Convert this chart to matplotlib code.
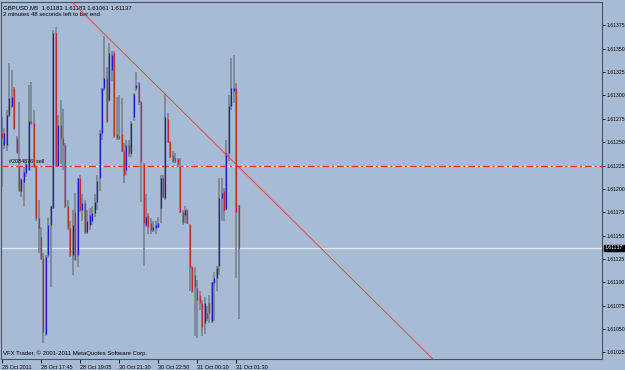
import numpy as np
import matplotlib
matplotlib.use("Agg")
import matplotlib.pyplot as plt
import matplotlib.transforms as mtransforms

# GBPUSD M5, prices in points (1e-5)
opens = [161260, 161247, 161247, 161279, 161289, 161308, 161255, 161225, 161198, 161207,
         161217, 161220, 161273, 161271, 161223, 161169, 161149, 161126, 161045, 161129,
         161161, 161180, 161367, 161225, 161268, 161254, 161247, 161182, 161158, 161129,
         161175, 161129, 161212, 161177, 161185, 161154, 161161, 161166, 161174, 161186,
         161212, 161260, 161308, 161319, 161295, 161327, 161345, 161259, 161257, 161259,
         161241, 161220, 161247, 161238, 161277, 161308, 161313, 161293, 161227, 161161,
         161172, 161163, 161156, 161158, 161159, 161180, 161212, 161190, 161275, 161250,
         161236, 161233, 161232, 161223, 161175, 161172, 161177, 161161, 161116, 161108,
         161094, 161086, 161078, 161056, 161067, 161078, 161059, 161099, 161105, 161118,
         161190, 161198, 161179, 161238, 161289, 161305, 161308, 161183]
highs = [161277, 161265, 161284, 161335, 161327, 161309, 161257, 161293, 161212, 161223,
         161230, 161311, 161314, 161284, 161223, 161188, 161159, 161131, 161129, 161169,
         161182, 161370, 161373, 161279, 161295, 161286, 161249, 161188, 161166, 161177,
         161196, 161212, 161215, 161195, 161188, 161177, 161180, 161182, 161195, 161215,
         161263, 161308, 161364, 161330, 161356, 161348, 161348, 161298, 161300, 161297,
         161249, 161252, 161252, 161273, 161303, 161325, 161314, 161294, 161228, 161195,
         161174, 161169, 161166, 161166, 161170, 161215, 161215, 161302, 161281, 161251,
         161241, 161238, 161233, 161233, 161177, 161182, 161178, 161162, 161117, 161116,
         161102, 161091, 161081, 161084, 161075, 161086, 161100, 161111, 161118, 161212,
         161212, 161201, 161252, 161300, 161340, 161343, 161313, 161183]
lows = [161202, 161243, 161241, 161277, 161287, 161263, 161238, 161198, 161191, 161182,
        161213, 161220, 161268, 161223, 161166, 161131, 161124, 161035, 161043, 161126,
        161095, 161179, 161223, 161223, 161227, 161220, 161180, 161156, 161127, 161108,
        161124, 161116, 161175, 161166, 161152, 161152, 161156, 161161, 161170, 161177,
        161198, 161252, 161305, 161271, 161293, 161316, 161255, 161252, 161252, 161239,
        161206, 161215, 161234, 161234, 161273, 161305, 161290, 161186, 161118, 161159,
        161152, 161152, 161154, 161152, 161158, 161164, 161190, 161188, 161249, 161233,
        161228, 161228, 161223, 161174, 161161, 161164, 161162, 161091, 161089, 161043,
        161041, 161070, 161043, 161045, 161059, 161057, 161057, 161059, 161091, 161108,
        161166, 161166, 161177, 161230, 161284, 161292, 161105, 161061]
closes = [161255, 161260, 161279, 161297, 161298, 161265, 161238, 161198, 161211, 161218,
          161227, 161273, 161271, 161223, 161169, 161158, 161126, 161047, 161127, 161161,
          161182, 161367, 161225, 161268, 161254, 161247, 161182, 161158, 161129, 161161,
          161124, 161212, 161177, 161185, 161154, 161166, 161172, 161174, 161186, 161209,
          161260, 161308, 161319, 161273, 161345, 161343, 161257, 161255, 161255, 161241,
          161215, 161247, 161238, 161271, 161302, 161311, 161293, 161230, 161164, 161170,
          161159, 161156, 161159, 161161, 161164, 161212, 161191, 161277, 161250, 161234,
          161230, 161230, 161227, 161175, 161163, 161177, 161163, 161116, 161091, 161095,
          161081, 161078, 161052, 161078, 161062, 161067, 161100, 161105, 161115, 161190,
          161196, 161177, 161238, 161289, 161308, 161308, 161175, 161137]

time_ticks = [0, 16, 32, 48, 64, 80, 96]
time_labels = ["28 Oct 2011", "28 Oct 17:45", "28 Oct 19:05", "30 Oct 21:30",
               "30 Oct 22:50", "31 Oct 00:10", "31 Oct 01:30"]
price_ticks = [1.61025, 1.61050, 1.61075, 1.61100, 1.61125, 1.61150, 1.61175,
               1.61200, 1.61225, 1.61250, 1.61275, 1.61300, 1.61325, 1.61350, 1.61375]
bid = 1.61137
order_price = 1.61225
order_label = "#2084876  sell"
trend_x = [28.7, 176.6]
trend_y = [1.61400, 1.61018]

o = np.array(opens) / 1e5
h = np.array(highs) / 1e5
l = np.array(lows) / 1e5
c = np.array(closes) / 1e5
idx = np.arange(len(o))

bg = "#a7bbd5"
plt.rcParams["font.family"] = ["Liberation Sans", "DejaVu Sans"]
fig = plt.figure(figsize=(6.25, 3.7), dpi=100, facecolor=bg)
ax = fig.add_axes([1 / 625, 11 / 370, 601 / 625, 357 / 370], facecolor=bg)
ax.set_xlim(-0.4, 245.9)
ax.set_ylim(1.61018, 1.61400)

# candles
ax.vlines(idx, l, h, color="#7f8b9b", lw=1.4, zorder=2)
up = c >= o
ax.vlines(idx[up], o[up], c[up], color="#1c1cc8", lw=0.9, zorder=3)
ax.vlines(idx[~up], c[~up], o[~up], color="#c42a2a", lw=0.9, zorder=3)

# bid line, order line, trend line
ax.axhline(bid, color="#e4e8ef", lw=0.9, zorder=1)
ax.axhline(order_price, color="#e9eef5", lw=0.9, zorder=1)
ax.axhline(order_price, color="#e8302c", lw=1.0, dashes=(5, 2, 1.5, 2), zorder=1)
ax.plot(trend_x, trend_y, color="#e03a3a", lw=0.6, zorder=4)

ax.text(3, order_price + 0.00002, order_label, fontsize=3.9, color="black", va="bottom")

# axes
for s in ax.spines.values():
    s.set_color("#47525e")
    s.set_linewidth(0.8)
ax.yaxis.tick_right()
ax.set_yticks(price_ticks)
ax.set_yticklabels([f"{p:.5f}" for p in price_ticks])
ax.tick_params(axis="y", length=2, width=0.6, pad=1, labelsize=3.7, colors="black")
ax.set_xticks(time_ticks)
ax.set_xticklabels(time_labels, ha="left")
ax.tick_params(axis="x", length=3, width=0.6, pad=1, labelsize=4.0, colors="black")

# bid price marker
tr = mtransforms.blended_transform_factory(ax.transAxes, ax.transData)
ax.text(1.005, bid, f"{bid:.5f}", transform=tr, fontsize=3.7, color="white",
        va="center", ha="left",
        bbox=dict(boxstyle="square,pad=0.15", fc="black", ec="black"))

# header and footer text
ax.text(0.004, 0.992, "GBPUSD,M5  1.61183 1.61183 1.61061 1.61137", transform=ax.transAxes,
        fontsize=4.3, va="top", ha="left")
ax.text(0.004, 0.972, "2 minutes 48 seconds left to bar end", transform=ax.transAxes,
        fontsize=4.3, va="top", ha="left")
ax.text(0.004, 0.008, "VFX Trader, \u00a9 2001-2011 MetaQuotes Software Corp.",
        transform=ax.transAxes, fontsize=4.3, va="bottom", ha="left")

fig.savefig("out.png", dpi=100, facecolor=bg)
